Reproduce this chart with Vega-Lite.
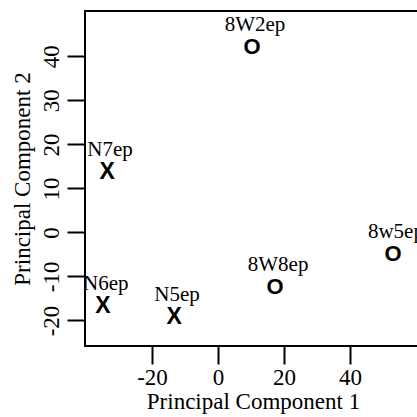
{
  "$schema": "https://vega.github.io/schema/vega-lite/v6.json",
  "autosize": "none",
  "padding": {"left": 85, "top": 11, "right": 0, "bottom": 71},
  "width": 336,
  "height": 335,
  "background": "white",
  "config": {
    "view": {"stroke": "black", "strokeWidth": 2},
    "axis": {
      "domain": false,
      "grid": false,
      "ticks": true,
      "tickColor": "black",
      "tickWidth": 2,
      "tickSize": 18,
      "labelFont": "Liberation Serif",
      "labelFontSize": 23,
      "labelColor": "black",
      "titleFont": "Liberation Serif",
      "titleFontSize": 23,
      "titleFontWeight": "normal",
      "titleColor": "black"
    }
  },
  "data": {
    "values": [
      {"pc1": 10.3, "pc2": 42.1, "name": "8W2ep", "group": "8W"},
      {"pc1": -33.6, "pc2": 13.7, "name": "N7ep", "group": "N"},
      {"pc1": -34.9, "pc2": -16.6, "name": "N6ep", "group": "N"},
      {"pc1": -13.3, "pc2": -19.2, "name": "N5ep", "group": "N"},
      {"pc1": 17.3, "pc2": -12.4, "name": "8W8ep", "group": "8W"},
      {"pc1": 53.0, "pc2": -4.9, "name": "8w5ep", "group": "8W"}
    ]
  },
  "encoding": {
    "x": {
      "field": "pc1", "type": "quantitative",
      "scale": {"domain": [-40.3, 61.5], "nice": false, "zero": false},
      "axis": {"values": [-20, 0, 20, 40], "labelExpr": "'' + datum.value", "labelFont": "Liberation Serif", "labelFontSize": 23, "title": "Principal Component 1", "labelPadding": 2, "titlePadding": 1}
    },
    "y": {
      "field": "pc2", "type": "quantitative",
      "scale": {"domain": [-25.8, 50.3], "nice": false, "zero": false},
      "axis": {"values": [-20, -10, 0, 10, 20, 30, 40], "labelExpr": "'' + datum.value", "labelFont": "Liberation Serif", "labelFontSize": 23, "title": "Principal Component 2", "labelAngle": 270, "labelPadding": 4, "titlePadding": 6}
    }
  },
  "layer": [
    {
      "transform": [{"filter": "datum.group === 'N'"}],
      "mark": {"type": "text", "text": "X", "font": "Liberation Sans", "fontWeight": "bold", "fontSize": 23, "baseline": "middle", "align": "center", "color": "black"}
    },
    {
      "transform": [{"filter": "datum.group === '8W'"}],
      "mark": {"type": "text", "text": "O", "font": "Liberation Sans", "fontWeight": "bold", "fontSize": 22, "baseline": "middle", "align": "center", "color": "black"}
    },
    {
      "mark": {"type": "text", "font": "Liberation Serif", "fontSize": 21, "baseline": "middle", "align": "center", "dy": -22, "dx": 3, "color": "black"},
      "encoding": {"text": {"field": "name"}}
    }
  ]
}
